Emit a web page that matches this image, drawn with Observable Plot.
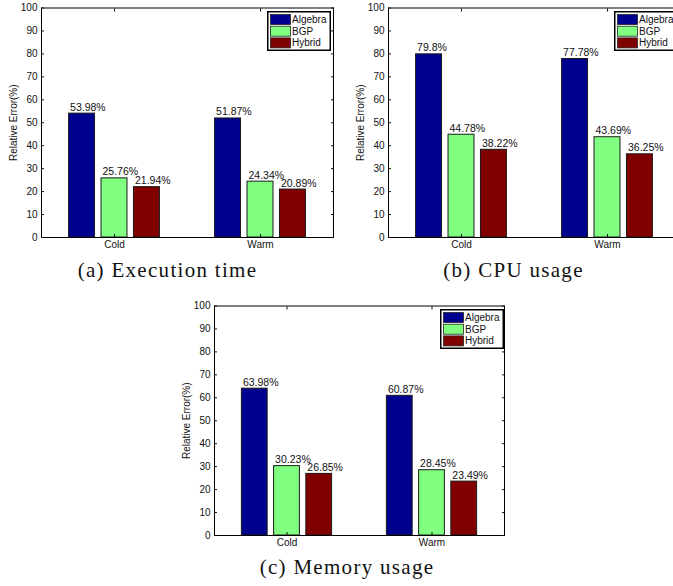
<!DOCTYPE html>
<html><head><meta charset="utf-8">
<script src="https://cdn.jsdelivr.net/npm/d3@7"></script>
<script src="https://cdn.jsdelivr.net/npm/@observablehq/plot@0.6"></script>
<style>
body{margin:0;background:#fff;}
#wrap{position:relative;width:673px;height:586px;overflow:hidden;background:#fff;}
.panel{position:absolute;width:360px;}
.panel svg{display:block;max-width:none !important;}
.legend{position:absolute;}
.cap{position:absolute;font-family:"Liberation Serif","Times New Roman",serif;font-size:21px;letter-spacing:1.3px;white-space:nowrap;transform:translateX(-50%);color:#111;line-height:1;}
</style></head><body><div id="wrap"></div>
<script>
// ---- data ----
const categories = ["Cold", "Warm"];
const series = ["Algebra", "BGP", "Hybrid"];
const seriesColors = ["#00008f", "#80ff80", "#800000"];
const yTicks = [0, 10, 20, 30, 40, 50, 60, 70, 80, 90, 100];

const execAlgebra = [53.98, 51.87];
const execBGP = [25.76, 24.34];
const execHybrid = [21.94, 20.89];

const cpuAlgebra = [79.8, 77.78];
const cpuBGP = [44.78, 43.69];
const cpuHybrid = [38.22, 36.25];

const memAlgebra = [63.98, 60.87];
const memBGP = [30.23, 28.45];
const memHybrid = [26.85, 23.49];

const captions = ["(a) Execution time", "(b) CPU usage", "(c) Memory usage"];
const yLabel = "Relative Error(%)";

// ---- drawing ----
const wrap = document.getElementById("wrap");
const FONT = "'Liberation Sans', Arial, Helvetica, sans-serif";

function makePanel(values, plotWidth) {
  const rows = [];
  categories.forEach((c, ci) => series.forEach((s, si) =>
    rows.push({cat: c, ci: ci + 1, series: s, si, value: values[si][ci]})));
  // MATLAB grouped-bar geometry (in data units)
  const n = series.length;
  const groupW = Math.min(0.8, n / (n + 1.5));
  const step = groupW / n, bw = step * 0.8;
  const xc = d => d.ci + (d.si - (n - 1) / 2) * step;
  const mL = 41, mR = 7, mT = 7.5, mB = 15, innerH = 229.5;
  const svg = Plot.plot({
    width: mL + plotWidth + mR,
    height: mT + innerH + mB,
    marginLeft: mL, marginRight: mR, marginTop: mT, marginBottom: mB,
    style: {fontFamily: FONT, fontSize: "10px", background: "transparent", overflow: "visible", color: "#111", maxWidth: "none"},
    x: {type: "linear", domain: [0.5, 2.5]},
    y: {domain: [0, 100]},
    color: {domain: series, range: seriesColors},
    marks: [
      Plot.rectY(rows, {x1: d => xc(d) - bw / 2, x2: d => xc(d) + bw / 2, y1: d => 0, y2: "value",
        fill: "series", stroke: "#1a1a1a", strokeWidth: 1}),
      Plot.text(rows, {x: d => xc(d) - bw / 2, y: "value", text: d => d.value + "%",
        textAnchor: "start", lineAnchor: "bottom", dx: 1, dy: -3, fontSize: 10.5, fill: "#111"}),
      Plot.frame({stroke: "#000", strokeWidth: 1}),
      Plot.axisY({anchor: "left", ticks: yTicks, tickSize: -3, tickPadding: 7, fontSize: 10,
        label: yLabel, labelAnchor: "center", labelOffset: 32, labelArrow: "none"}),
      Plot.axisY({anchor: "right", ticks: yTicks, tickSize: -3, text: null, label: null}),
      Plot.axisX({anchor: "bottom", ticks: [1, 2], tickFormat: i => categories[i - 1], tickSize: -3,
        tickPadding: 6.5, fontSize: 10, label: null}),
      Plot.axisX({anchor: "top", ticks: [1, 2], tickSize: -3, text: null, label: null})
    ]
  });
  svg.style.maxWidth = "none";
  return svg;
}

function makeLegend() {
  const w = 64, h = 40;
  const svg = d3.create("svg").attr("width", w).attr("height", h)
    .attr("font-family", FONT).attr("font-size", 10);
  svg.append("rect").attr("x", 0.75).attr("y", 0.75).attr("width", w - 1.5).attr("height", h - 1.5)
    .attr("fill", "#fff").attr("stroke", "#000").attr("stroke-width", 1.5);
  series.forEach((s, i) => {
    const y = 3.5 + i * 11.7;
    svg.append("rect").attr("x", 3.5).attr("y", y).attr("width", 20).attr("height", 10)
      .attr("fill", seriesColors[i]).attr("stroke", "#222").attr("stroke-width", 0.8);
    svg.append("text").attr("x", 25).attr("y", y + 5).attr("dy", "0.35em").attr("fill", "#111").text(s);
  });
  return svg.node();
}

function place(values, left, top, plotWidth, caption, capX, capBaseline) {
  const div = document.createElement("div");
  div.className = "panel";
  div.style.left = left + "px";
  div.style.top = top + "px";
  div.appendChild(makePanel(values, plotWidth));
  const lg = document.createElement("div");
  lg.className = "legend";
  lg.style.left = (41 + 225.5) + "px";
  lg.style.top = (7.5 + 3) + "px";
  lg.appendChild(makeLegend());
  div.appendChild(lg);
  wrap.appendChild(div);
  const cap = document.createElement("div");
  cap.className = "cap";
  cap.textContent = caption;
  cap.style.left = capX + "px";
  cap.style.top = (capBaseline - 17) + "px";
  wrap.appendChild(cap);
}

place([execAlgebra, execBGP, execHybrid], 0, 0, 292, captions[0], 167.5, 277);
place([cpuAlgebra, cpuBGP, cpuHybrid], 347, 0, 292, captions[1], 513.5, 277);
place([memAlgebra, memBGP, memHybrid], 173, 298.2, 290, captions[2], 347, 574);
</script>
</body></html>
